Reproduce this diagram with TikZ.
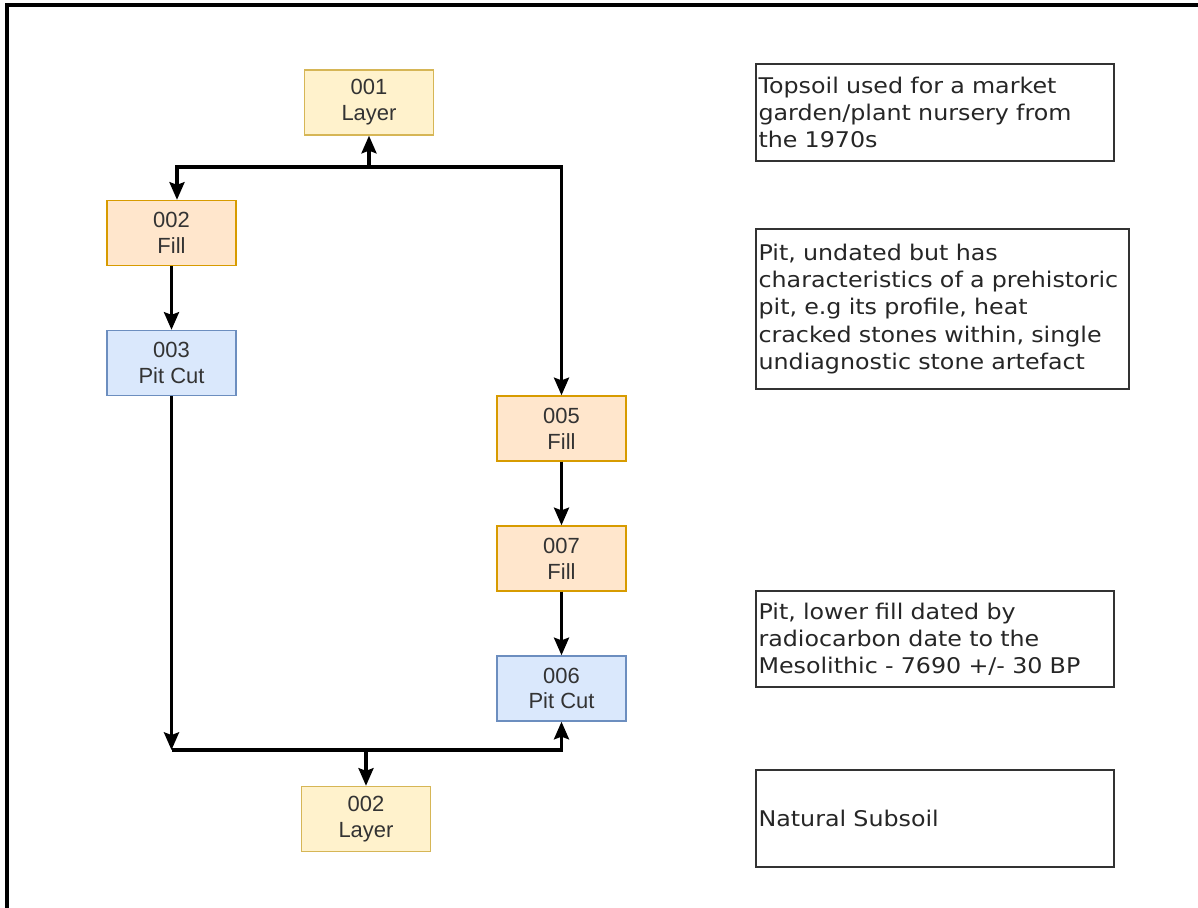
\documentclass[tikz,border=0pt]{standalone}
\usepackage{fontspec}
\setmainfont{Liberation Sans}
\newfontfamily\notefont[FakeStretch=1.1]{DejaVu Sans}
\usetikzlibrary{arrows.meta}

\definecolor{layerfill}{HTML}{FFF2CC}
\definecolor{layerline}{HTML}{D6B656}
\definecolor{fillfill}{HTML}{FFE6CC}
\definecolor{fillline}{HTML}{D79B00}
\definecolor{cutfill}{HTML}{DAE8FC}
\definecolor{cutline}{HTML}{6C8EBF}
\definecolor{textgrey}{HTML}{333333}

\begin{document}
\begin{tikzpicture}[
    x=0.02cm, y=-0.02cm,
    unit/.style={rectangle, minimum width=2.58cm, minimum height=1.3cm, line width=0.8pt, align=center, text=textgrey, font=\fontsize{12.5}{14.7}\selectfont},
    layerbox/.style={unit, draw=layerline, fill=layerfill},
    fillbox/.style={unit, draw=fillline, fill=fillfill},
    cutbox/.style={unit, draw=cutline, fill=cutfill},
    note/.style={rectangle, draw=textgrey, line width=1.2pt, anchor=north west, align=left, inner xsep=0.05cm, text=black!85, font=\notefont\fontsize{12.3}{15.4}\selectfont},
    arr/.style={->, line width=2pt, >={Stealth[length=10pt, width=8.5pt, inset=1.5pt]}}
]
\useasboundingbox (0,0) rectangle (1198,908);
\draw[line width=2.2pt] (7,908) -- (7,5) -- (1198,5);

% the matrix units
\node[layerbox] (l001) at (369,102.5) {001\\Layer};
\node[fillbox] (f002) at (171.5,233) {002\\Fill};
\node[cutbox] (c003) at (171.5,363) {003\\Pit Cut};
\node[fillbox] (f005) at (561.5,428.5) {005\\Fill};
\node[fillbox] (f007) at (561.5,558.5) {007\\Fill};
\node[cutbox] (c006) at (561.5,688.5) {006\\Pit Cut};
\node[layerbox] (l002) at (366,819) {002\\Layer};

% notes
\node[note, text width=7.06cm, minimum height=1.94cm] (n1) at (755,63) {Topsoil used for a market\\garden/plant nursery from\\the 1970s};
\node[note, text width=7.36cm, minimum height=3.2cm] (n2) at (755,228) {Pit, undated but has\\characteristics of a prehistoric\\pit, e.g its profile, heat\\cracked stones within, single\\undiagnostic stone artefact};
\node[note, text width=7.06cm, minimum height=1.92cm] (n3) at (755,590) {Pit, lower fill dated by\\radiocarbon date to the\\Mesolithic - 7690 +/- 30 BP};
\node[note, text width=7.06cm, minimum height=1.94cm] (n4) at (755,769) {Natural Subsoil};

% links
\coordinate (tm) at (369,167);
\coordinate (tl) at (177,167);
\coordinate (bm) at (366,750);
\draw[arr] (tm) -- (l001.south);
\draw[arr] (tm) -- (tl) -- (tl |- f002.north);
\draw[arr] (tm) -- (f005.north |- tm) -- (f005.north);
\draw[arr] (f002) -- (c003);
\draw[arr] (f005) -- (f007);
\draw[arr] (f007) -- (c006);
\draw[arr] (c003.south) -- (c003.south |- bm);
\draw[arr] (c003.south |- bm) -- (c006.south |- bm) -- (c006.south);
\draw[arr] (bm) -- (l002.north);
\end{tikzpicture}
\end{document}
